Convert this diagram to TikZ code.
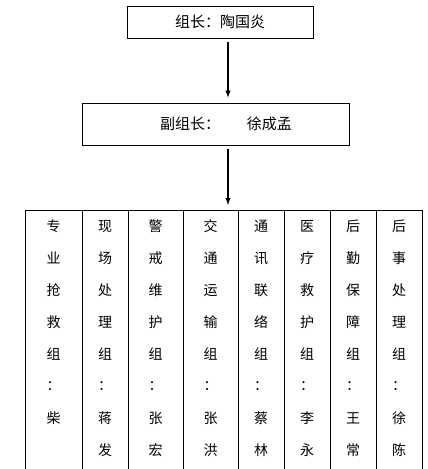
\documentclass[tikz,border=0pt]{standalone}
\usepackage{fontspec}
\newfontfamily\cjk{Noto Sans CJK SC}
\usetikzlibrary{arrows,positioning,matrix}

\begin{document}
\begin{tikzpicture}[
    x=1pt, y=-1pt,
    box/.style={draw, line width=0.8pt, inner sep=0, font=\cjk\fontsize{15}{17}\selectfont},
    link/.style={-latex, line width=1.4pt, shorten <=4pt, shorten >=5pt},
    rule/.style={line width=0.8pt},
    table/.style={
        matrix of nodes,
        inner sep=0,
        row sep=0,
        column sep=0,
        nodes in empty cells,
        nodes={font=\cjk\fontsize{14}{16}\selectfont, inner sep=0, minimum height=32pt, anchor=center},
    column 1/.style={nodes={minimum width=57pt}},
    column 2/.style={nodes={minimum width=46pt}},
    column 3/.style={nodes={minimum width=55pt}},
    column 4/.style={nodes={minimum width=55pt}},
    column 5/.style={nodes={minimum width=46pt}},
    column 6/.style={nodes={minimum width=46pt}},
    column 7/.style={nodes={minimum width=46pt}},
    column 8/.style={nodes={minimum width=46pt}}   }]
\useasboundingbox (0,0) rectangle (428,469);

\node[box, minimum width=186, minimum height=32] (chief) at (220,22) {组长：陶国炎};
\node[box, minimum width=267, minimum height=42] (deputy) at (215.5,124) {\hspace*{21pt}副组长：\hspace{27pt}徐成孟};

\matrix (groups) [table, anchor=north west, ampersand replacement=\&] at (25,210) {
 专 \& 现 \& 警 \& 交 \& 通 \& 医 \& 后 \& 后 \\
 业 \& 场 \& 戒 \& 通 \& 讯 \& 疗 \& 勤 \& 事 \\
 抢 \& 处 \& 维 \& 运 \& 联 \& 救 \& 保 \& 处 \\
 救 \& 理 \& 护 \& 输 \& 络 \& 护 \& 障 \& 理 \\
 组 \& 组 \& 组 \& 组 \& 组 \& 组 \& 组 \& 组 \\
 ： \& ： \& ： \& ： \& ： \& ： \& ： \& ： \\
 柴 \& 蒋 \& 张 \& 张 \& 蔡 \& 李 \& 王 \& 徐 \\
    \& 发 \& 宏 \& 洪 \& 林 \& 永 \& 常 \& 陈 \\
};

\coordinate (floor) at (0,469);

% arrows
\draw[link] ([xshift=8]chief.south) -- ([xshift=8]chief.south |- deputy.north);
\draw[link] ([xshift=12.5]deputy.south) -- ([xshift=12.5]deputy.south |- groups-1-1.north);

% table rules
\draw[rule] (groups-1-1.north west) -- (groups-1-8.north east);
\foreach \c in {1,...,8}
    \draw[rule] (groups-1-\c.north west) -- (groups-1-\c.north west |- floor);
\draw[rule] (groups-1-8.north east) -- (groups-1-8.north east |- floor);

\end{tikzpicture}
\end{document}
